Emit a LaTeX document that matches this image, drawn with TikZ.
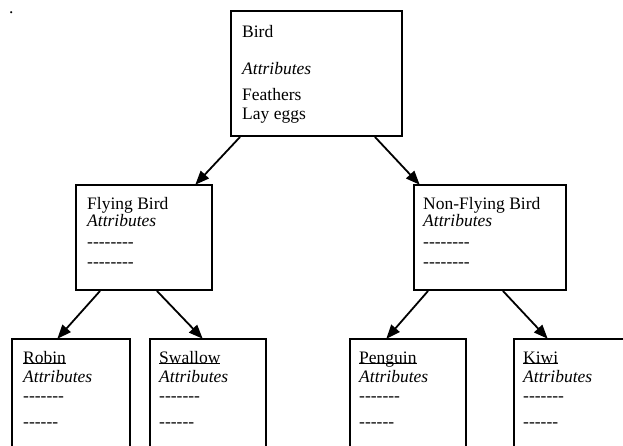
\documentclass[tikz,border=0pt]{standalone}
\usepackage{fontspec}
\setmainfont{Liberation Serif}[Ligatures=TeXOff]
\usetikzlibrary{arrows.meta}
\newcommand\ulword[1]{\setbox0\hbox{#1}\rlap{\rule[-0.6pt]{\wd0}{0.9pt}}\box0}
\tikzset{
  box/.style={draw, line width=2pt, minimum width=#1, inner sep=0pt, anchor=north west},
  txt/.style={anchor=base west, inner sep=0pt, font=\fontsize{17.5}{20}\selectfont},
  arr/.style={line width=1.8pt, -{Triangle[length=14pt,width=11pt]}, shorten >=-1pt}
}
\begin{document}
\begin{tikzpicture}[x=1pt,y=1pt]
\clip (0,0) rectangle (623,-445);
\fill[white] (0,0) rectangle (623,-445);
% boxes
\node[box=171pt, minimum height=125pt] (bird) at (230,-10) {};
\node[box=136pt, minimum height=105pt] (fly) at (75,-184) {};
\node[box=152pt, minimum height=105pt] (nfly) at (413,-184) {};
\node[box=118pt, minimum height=125pt] (robin) at (11,-338) {};
\node[box=116pt, minimum height=125pt] (swallow) at (149,-338) {};
\node[box=116pt, minimum height=125pt] (penguin) at (349,-338) {};
\node[box=140pt, minimum height=125pt] (kiwi) at (513,-338) {};
% texts
\node[txt] (dot) at (9,-13) {.};
\node[txt] (t1) at (242,-37) {Bird};
\node[txt] (t2) at (242,-74) {\itshape Attributes};
\node[txt] (t3) at (242,-100) {Feathers};
\node[txt] (t4) at (242,-119) {Lay eggs};
\node[txt] (f1) at (87,-209) {Flying Bird};
\node[txt] (f2) at (87,-226) {\itshape Attributes};
\node[txt] (f3) at (87,-247) {--------};
\node[txt] (f4) at (87,-267) {--------};
\node[txt] (n1) at (423,-209) {Non-Flying Bird};
\node[txt] (n2) at (423,-226) {\itshape Attributes};
\node[txt] (n3) at (423,-247) {--------};
\node[txt] (n4) at (423,-267) {--------};
\foreach \nm/\x/\w in {r/23/Robin, s/159/Swallow, p/359/Penguin, k/523/Kiwi}{
  \node[txt] (\nm1) at (\x,-363) {\ulword{\w}};
  \node[txt] (\nm2) at (\x,-382) {\itshape Attributes};
  \node[txt] (\nm3) at (\x,-401) {-------};
  \node[txt] (\nm4) at (\x,-427) {------};
}
% connectors
\draw[arr] ([xshift=10pt]bird.south west) -- ([xshift=-17pt]fly.north east);
\draw[arr] ([xshift=-28pt]bird.south east) -- ([xshift=6pt]nfly.north west);
\draw[arr] ([xshift=25pt]fly.south west) -- ([xshift=47pt]robin.north west);
\draw[arr] ([xshift=82pt]fly.south west) -- ([xshift=53pt]swallow.north west);
\draw[arr] ([xshift=15pt]nfly.south west) -- ([xshift=38pt]penguin.north west);
\draw[arr] ([xshift=90pt]nfly.south west) -- ([xshift=34pt]kiwi.north west);
\end{tikzpicture}
\end{document}
